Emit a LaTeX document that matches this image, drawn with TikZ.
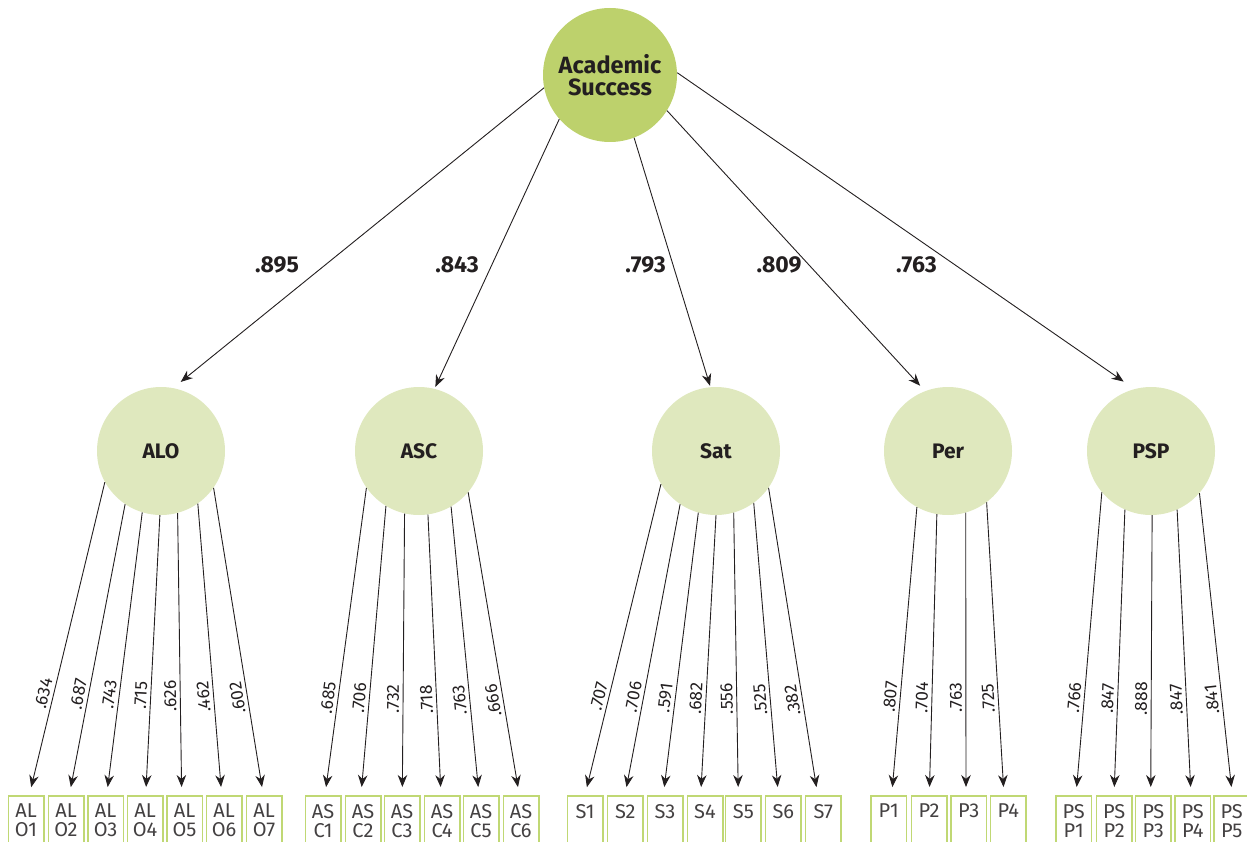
\documentclass[tikz,border=0pt]{standalone}
\usepackage{fontspec}
\setmainfont{Fira Sans}
\usetikzlibrary{arrows.meta}
\definecolor{topgreen}{RGB}{189,209,108}
\definecolor{lightgreen}{RGB}{223,232,190}
\definecolor{boxgreen}{RGB}{192,216,116}
\definecolor{ink}{RGB}{35,31,32}
\begin{document}
\begin{tikzpicture}[x=1pt,y=-1pt,
  topc/.style={circle, fill=topgreen, minimum size=134pt, inner sep=0pt,
    font=\fontsize{23.5}{22.6}\selectfont\bfseries, text=ink, align=center},
  lat/.style={circle, fill=lightgreen, minimum size=128pt, inner sep=0pt,
    font=\fontsize{21}{24}\selectfont\bfseries, text=ink},
  obs/.style={draw=boxgreen, line width=1.5pt, minimum width=35.5pt,
    minimum height=70pt, anchor=north, inner sep=0pt},
  obstxt/.style={anchor=north, align=center, inner sep=0pt,
    font=\fontsize{20}{19}\selectfont, text=ink!85},
  arr/.style={draw=ink, line width=0.9pt, -{Stealth[length=12pt,width=9.5pt]}},
  ind/.style={draw=ink, line width=0.9pt, {Stealth[length=12pt,width=9.5pt]}-, shorten <=8pt},
  wl/.style={sloped, allow upside down, above=2.5pt, inner sep=1pt,
    font=\fontsize{17.5}{17.5}\selectfont, text=ink},
  wt/.style={font=\fontsize{23}{24}\selectfont\bfseries, text=ink, inner sep=0pt}]
\useasboundingbox (0,0) rectangle (1247,842);
\clip (0,0) rectangle (1247,842);

% circles
\node[topc] (as) at (610,75) {Academic\\Success};
\node[lat] (alo) at (161,451) {ALO};
\node[lat] (asc) at (419,451) {ASC};
\node[lat] (sat) at (716,451) {Sat};
\node[lat] (per) at (948,451) {Per};
\node[lat] (psp) at (1151,451) {PSP};

% structural paths
\draw[arr, shorten >=9.6pt] (as.191.3) -- (alo.79.7);
\draw[arr, shorten >=2pt] (as.221.4) -- (asc.76.3);
\draw[arr, shorten >=1.3pt] (as.291.8) -- (sat.95);
\draw[arr, shorten >=7.2pt] (as.328.9) -- (per.111.1);
\draw[arr, shorten >=13pt] (as.2.6) -- (psp.105.7);

\node[wt] (w1) at (277,265) {.895};
\node[wt] (w2) at (457,265) {.843};
\node[wt] (w3) at (645.5,265) {.793};
\node[wt] (w4) at (779,265) {.809};
\node[wt] (w5) at (916.5,265) {.763};

% ALO indicators
\foreach \i/\bx/\dx/\ang/\lab/\p in {
  1/26/3.3/209.3/.634/.317, 2/66/3.3/236.3/.687/.341, 3/105.7/1/253.8/.743/.351,
  4/145/0.7/269/.715/.354, 5/184.5/-2.8/285/.626/.352, 6/224/-2.3/305.4/.462/.339,
  7/264/-0.7/325/.602/.322}{
  \node[obs] (alo\i) at (\bx,795) {};
  \node[obstxt] (talo\i) at ([yshift=-9pt]alo\i.north) {AL\\O\i};
  \draw[ind] ([xshift=\dx pt]alo\i.north) -- node[wl,pos=\p]{\lab} (alo.\ang);
}
% ASC indicators
\foreach \i/\bx/\dx/\ang/\lab/\p in {
  1/323/2/215.4/.685/.313, 2/363/-2/239.5/.706/.333, 3/402/0.3/257/.732/.340,
  4/442/-1/278/.718/.342, 5/481/-2/300/.763/.333, 6/521/-1.7/320/.666/.318}{
  \node[obs] (asc\i) at (\bx,795) {};
  \node[obstxt] (tasc\i) at ([yshift=-9pt]asc\i.north) {AS\\C\i};
  \draw[ind] ([xshift=\dx pt]asc\i.north) -- node[wl,pos=\p]{\lab} (asc.\ang);
}
% Sat indicators
\foreach \i/\bx/\dx/\ang/\lab/\p in {
  1/585/0/211/.707/.310, 2/625.3/-0.3/236/.706/.331, 3/665/-1.7/254.7/.591/.340,
  4/705/-4.3/270/.682/.343, 5/743.3/-5/286/.556/.342, 6/783.3/-5/306/.525/.329,
  7/823.3/-5.6/325/.382/.313}{
  \node[obs] (sat\i) at (\bx,795) {};
  \node[obstxt] (tsat\i) at ([yshift=-9pt]sat\i.north) {S\i};
  \draw[ind] ([xshift=\dx pt]sat\i.north) -- node[wl,pos=\p]{\lab} (sat.\ang);
}
% Per indicators
\foreach \i/\bx/\dx/\ang/\lab/\p in {
  1/888.7/3/241.5/.807/.338, 2/929/0.3/260/.704/.345, 3/968.7/-2.7/286/.763/.345,
  4/1008.3/-4.3/307.6/.725/.332}{
  \node[obs] (per\i) at (\bx,795) {};
  \node[obstxt] (tper\i) at ([yshift=-9pt]per\i.north) {P\i};
  \draw[ind] ([xshift=\dx pt]per\i.north) -- node[wl,pos=\p]{\lab} (per.\ang);
}
% PSP indicators
\foreach \i/\bx/\dx/\ang/\lab/\p in {
  1/1073.7/2.3/220.6/.766/.318, 2/1114.2/-0.2/246/.847/.337, 3/1153.3/-2.6/271/.888/.344,
  4/1192.7/-1.7/294.6/.847/.337, 5/1231.7/0.6/319/.841/.319}{
  \node[obs] (psp\i) at (\bx,795) {};
  \node[obstxt] (tpsp\i) at ([yshift=-9pt]psp\i.north) {PS\\P\i};
  \draw[ind] ([xshift=\dx pt]psp\i.north) -- node[wl,pos=\p]{\lab} (psp.\ang);
}
\end{tikzpicture}
\end{document}
